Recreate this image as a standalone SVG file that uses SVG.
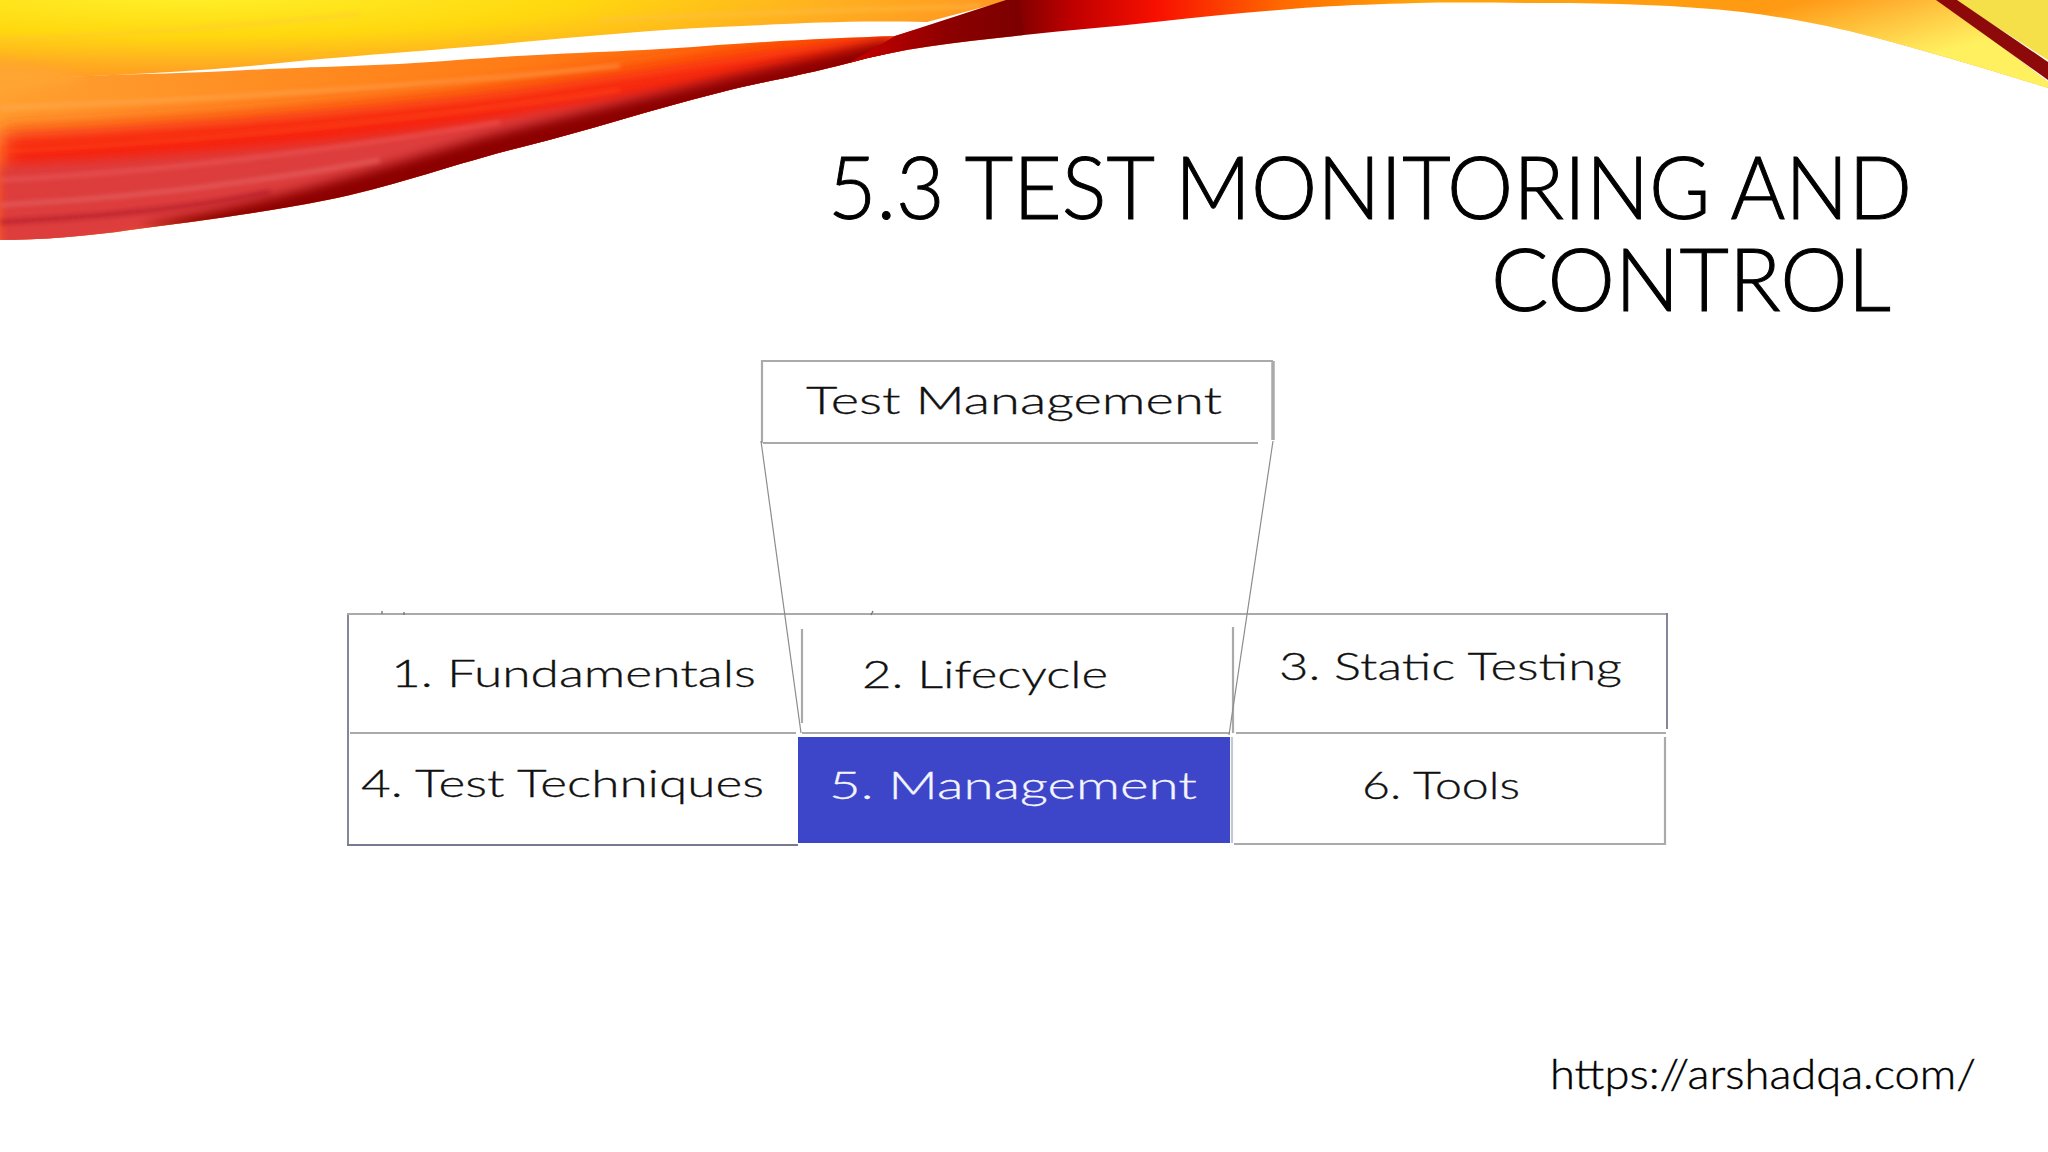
<svg xmlns="http://www.w3.org/2000/svg" width="2048" height="1152" viewBox="0 0 2048 1152">
<style>
.title{font-family:"Lato","Liberation Sans",sans-serif;font-size:86px;font-weight:300;fill:#000;stroke:#000;stroke-width:1}
.lbl{font-family:"Lato","Liberation Sans",sans-serif;font-size:38px;font-weight:300;fill:#111;stroke:#111;stroke-width:.3}
.url{font-family:"Lato","Liberation Sans",sans-serif;font-size:42px;font-weight:300;fill:#000;stroke:#000;stroke-width:.4}
.edge{stroke:#aaa;stroke-width:2.2;fill:none}
.edgeD{stroke:#777a90;stroke-width:1.8;fill:none}
.diag{stroke:#8c8c8c;stroke-width:1.2;fill:none}
.tick{stroke:#777;stroke-width:1.4;fill:none}
</style>
<defs>
<radialGradient id="gTop" gradientUnits="userSpaceOnUse" cx="0" cy="0" r="1" gradientTransform="translate(190 -5) scale(860 90)">
<stop offset="0" stop-color="#fff02a"/><stop offset=".45" stop-color="#ffd80f"/><stop offset=".75" stop-color="#ffb020"/><stop offset="1" stop-color="#ff9222"/>
</radialGradient>
<linearGradient id="gLow" gradientUnits="userSpaceOnUse" x1="0" y1="0" x2="900" y2="0">
<stop offset="0" stop-color="#ffa030"/><stop offset=".6" stop-color="#ff7a14"/><stop offset="1" stop-color="#ff5a00"/>
</linearGradient>
<linearGradient id="gRight" gradientUnits="userSpaceOnUse" x1="1000" y1="0" x2="2048" y2="0">
<stop offset="0" stop-color="#6e0000"/><stop offset=".07" stop-color="#c00000"/><stop offset=".15" stop-color="#f81000"/><stop offset=".27" stop-color="#ff6a00"/><stop offset=".4" stop-color="#ffa50c"/><stop offset=".72" stop-color="#ff9a12"/><stop offset=".87" stop-color="#ff9a20"/><stop offset="1" stop-color="#ffb030"/>
</linearGradient>
<linearGradient id="gRightEdge" gradientUnits="userSpaceOnUse" x1="1830" y1="-5" x2="1850" y2="75">
<stop offset="0" stop-color="#fff060" stop-opacity="0"/><stop offset="1" stop-color="#fff060"/>
</linearGradient>
<linearGradient id="gCross" gradientUnits="userSpaceOnUse" x1="850" y1="0" x2="1030" y2="0">
<stop offset="0" stop-color="#c80000"/><stop offset=".55" stop-color="#8c0000"/><stop offset="1" stop-color="#7a0000"/>
</linearGradient>
<clipPath id="lowClip"><path d="M65,77 C120,74 170,74 229,71 C320,66 390,66 457,60 C560,52 640,52 718,45 C790,40 840,38 895,36 L1010,0 L1024,35 C960,42 900,48 849,63 C800,76 760,82 718,93 C650,110 590,130 522,147 C450,165 390,188 327,200 C250,215 190,222 130,230 C90,236 40,240 0,240 L0,85 Z"/></clipPath>
<filter id="b12" x="-10%" y="-40%" width="120%" height="180%"><feGaussianBlur stdDeviation="11"/></filter>
<filter id="b6" x="-10%" y="-40%" width="120%" height="180%"><feGaussianBlur stdDeviation="6"/></filter>
<filter id="b3" x="-10%" y="-60%" width="120%" height="220%"><feGaussianBlur stdDeviation="2"/></filter>
</defs>
<rect width="2048" height="1152" fill="#fff"/>
<g id="swoosh">
<path d="M0,0 L1010,0 L927,22 C840,20 790,24 718,27 C650,30 590,36 522,42 C440,50 340,56 261,65 C200,71 120,75 65,77 L0,90 Z" fill="url(#gTop)"/>
<g clip-path="url(#lowClip)">
<rect x="0" y="30" width="1030" height="215" fill="url(#gLow)"/>
<path d="M0,132 C200,122 420,104 560,82 C680,64 800,44 900,34 L900,90 L0,250 Z" fill="#f72208" filter="url(#b12)"/>
<path d="M0,165 C180,156 380,142 540,112 C620,98 720,84 800,66 L800,110 L0,260 Z" fill="#dd3c3c" filter="url(#b6)"/>
<path d="M140,226 C260,205 380,168 480,138 C580,112 660,94 740,74 L890,40 L890,90 L300,235 Z" fill="#8c0000" filter="url(#b6)"/>
<path d="M0,180 C160,172 320,152 500,122" stroke="#f06060" stroke-width="4" fill="none" opacity=".55" filter="url(#b3)"/>
<path d="M0,205 C140,198 260,182 380,160" stroke="#e86a6a" stroke-width="5" fill="none" opacity=".55" filter="url(#b3)"/>
<path d="M0,222 C110,216 190,208 270,192" stroke="#a81828" stroke-width="5" fill="none" opacity=".55" filter="url(#b3)"/>
<path d="M0,108 C200,100 400,88 620,66" stroke="#ffb060" stroke-width="4" fill="none" opacity=".5" filter="url(#b3)"/>
<path d="M0,152 C220,140 420,120 620,90" stroke="#ff5020" stroke-width="4" fill="none" opacity=".5" filter="url(#b3)"/>
</g>
<path d="M-10,62 C30,64 70,70 90,78 C60,84 30,90 -10,94 Z" fill="#ffa530" filter="url(#b6)"/>
<path d="M0,40 C80,36 200,30 360,14" stroke="#ffc040" stroke-width="3" fill="none" opacity=".5" filter="url(#b3)"/>
<path d="M600,20 C720,14 860,10 980,6" stroke="#ffc050" stroke-width="3" fill="none" opacity=".6" filter="url(#b3)"/>
<path d="M1006,0 L1024,0 L1024,35 C960,42 900,48 849,63 L895,36 Z" fill="url(#gCross)"/>
<path d="M1020,0 L1940,0 L2048,82 L2048,88 C1990,70 1930,52 1873,37 C1830,26 1790,18 1742,12 C1680,5 1610,3 1546,3 C1500,3 1460,2 1416,3 C1380,4 1350,5 1318,7 C1260,11 1210,16 1155,22 C1110,27 1070,30 1024,35 Z" fill="url(#gRight)"/>
<path d="M1742,0 L1940,0 L2048,82 L2048,88 C1990,70 1930,52 1873,37 C1830,26 1790,18 1742,12 Z" fill="url(#gRightEdge)"/>
<path d="M1955,0 L2048,0 L2048,60 Z" fill="#f6e04a"/>
<path d="M1936,0 L1957,0 L2048,62 L2048,80 Z" fill="#8e0a0a"/>
</g>
<g id="title">
<text class="title" x="828" y="219" textLength="1084" lengthAdjust="spacingAndGlyphs">5.3 TEST MONITORING AND</text>
<text class="title" x="1491" y="311" textLength="400" lengthAdjust="spacingAndGlyphs">CONTROL</text>
</g>
<g id="node-test-management">
<path d="M762,443 V361 H1273" class="edge"/>
<path d="M1273,361 V440" class="edge" style="stroke-width:3.5"/>
<path d="M763,443 H1258" class="edge"/>
<text class="lbl" x="806" y="414" textLength="416" lengthAdjust="spacingAndGlyphs">Test Management</text>
</g>
<g id="node-1">
<path d="M348,845 V614" class="edgeD"/>
<path d="M347,614 H800" class="edge"/>
<path d="M350,733 H796" class="edge"/>
<path d="M382,611 V614 M404,612 V615" class="tick"/>
<text class="lbl" x="391" y="687" textLength="365" lengthAdjust="spacingAndGlyphs">1. Fundamentals</text>
</g>
<g id="node-2">
<path d="M800,614 H1232" class="edge"/>
<path d="M873,611 L871,615" class="tick"/>
<path d="M802,629 V723" class="edge"/>
<path d="M1233,627 V733" class="edge"/>
<path d="M802,733 H1230" class="edge"/>
<text class="lbl" x="862" y="688" textLength="246" lengthAdjust="spacingAndGlyphs">2. Lifecycle</text>
</g>
<g id="node-3">
<path d="M1232,614 H1667" class="edge"/>
<path d="M1667,613 V729" class="edgeD"/>
<path d="M1236,733 H1666" class="edge"/>
<text class="lbl" x="1279" y="680" textLength="343" lengthAdjust="spacingAndGlyphs">3. Static Testing</text>
</g>
<g id="node-4">
<path d="M347,845 H798" class="edgeD"/>
<text class="lbl" x="361" y="797" textLength="403" lengthAdjust="spacingAndGlyphs">4. Test Techniques</text>
</g>
<g id="node-5">
<rect x="798" y="737" width="432" height="106" fill="#3d46c8"/>
<text class="lbl" x="829" y="799" textLength="368" lengthAdjust="spacingAndGlyphs" style="fill:#f4f4ff;stroke:#f4f4ff">5. Management</text>
</g>
<g id="node-6">
<path d="M1232,737 V843" class="edge" style="stroke:#c4c7d4"/>
<path d="M1234,844 H1665 V737" class="edge"/>
<text class="lbl" x="1362" y="799" textLength="158" lengthAdjust="spacingAndGlyphs">6. Tools</text>
</g>
<g id="connectors">
<path d="M761,441 L801,733" class="diag"/>
<path d="M1273,441 L1229,735" class="diag"/>
</g>
<text class="url" x="1550" y="1089" textLength="426" lengthAdjust="spacingAndGlyphs">https://arshadqa.com/</text>
</svg>
